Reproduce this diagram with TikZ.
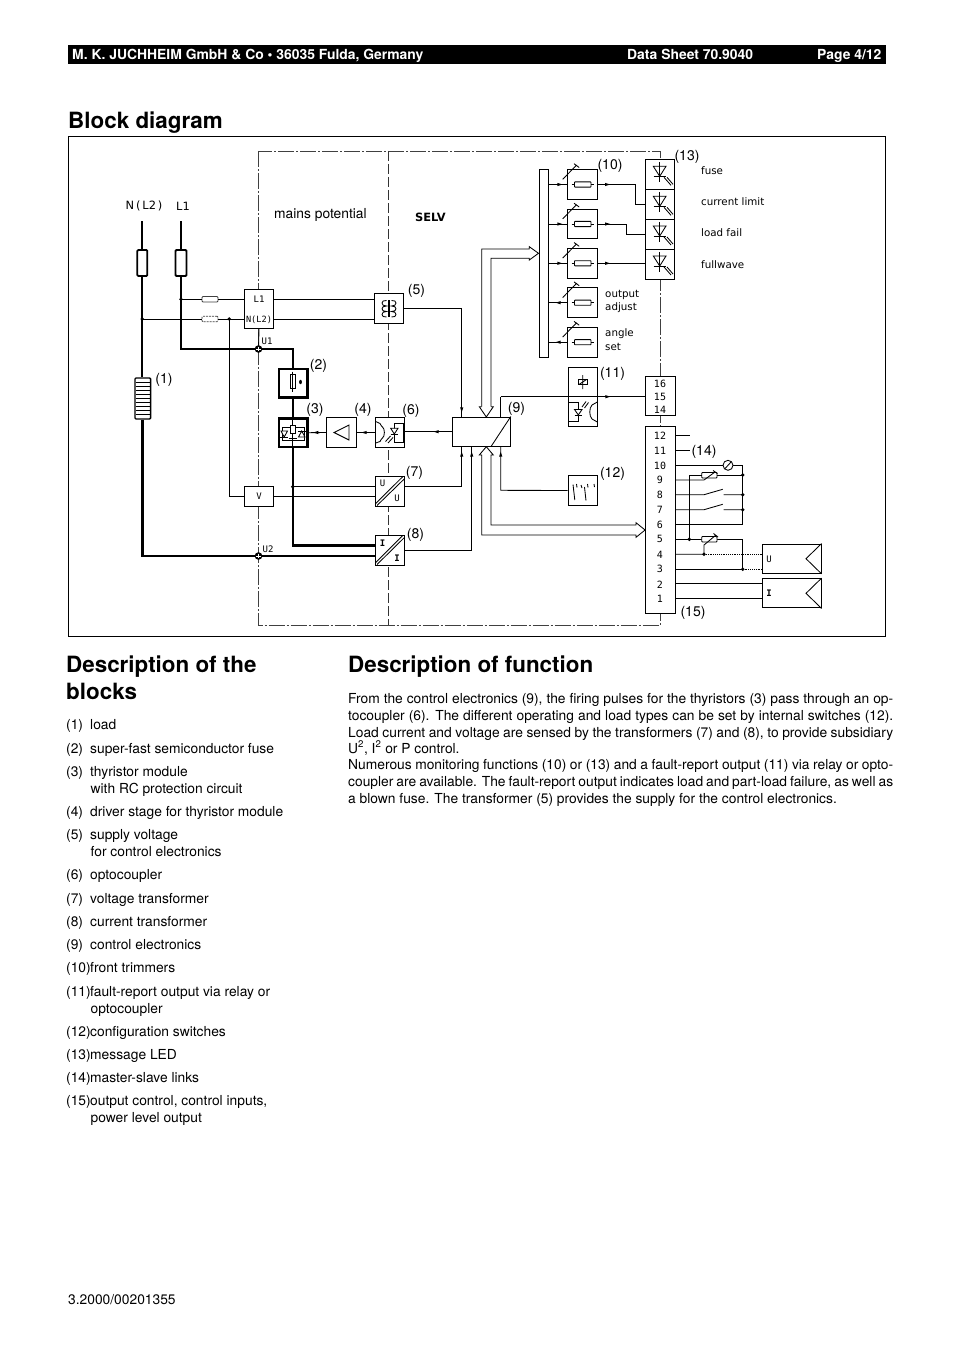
\documentclass[tikz,border=0pt]{standalone}
\usepackage{fontspec}
\setmainfont{TeX Gyre Heros}
\newfontfamily\monoisof{DejaVu Sans Mono}
\newfontfamily\isof{DejaVu Sans}
\newcommand\fs[1]{\fontsize{#1}{#1}\selectfont}
\tikzset{
  boxn/.style={draw,fill=white,inner sep=0pt,line width=1pt,minimum width=29.4pt,minimum height=29.6pt},
  thk/.style={line width=2.4pt,line join=miter},
  med/.style={line width=1.8pt},
  thn/.style={line width=.85pt},
  dashfr/.style={line width=.6pt,black!75,dash pattern=on 16pt off 2pt on 2pt off 2pt},
  dashmid/.style={line width=.7pt,black!80,dash pattern=on 10pt off 3pt},
  lab/.style={inner sep=0pt,yshift=-1.5pt,font=\fs{14}},
  iso/.style={inner sep=0pt,font=\monoisof\fs{9}},
  word/.style={inner sep=0pt,anchor=west,font=\isof\fs{10.3}},
  isob/.style={inner sep=0pt,font=\monoisof\bfseries\fs{9}},
  term/.style={inner sep=0pt,font=\monoisof\fs{10}},
  txt/.style={inner sep=0pt,anchor=base west,font=\fs{13.8}},
  head/.style={inner sep=0pt,anchor=base west,text=white,font=\bfseries\fs{13.9}},
  ttl/.style={inner sep=0pt,anchor=base west,font=\bfseries\fs{22.4}},
}
\newcommand\mk[3]{\fill[shift={(#1,#2)},rotate=#3] (-2.6,-1.6)--(2.4,0)--(-2.6,1.6)--cycle;}
\newcommand\dotj[2]{\fill (#1,#2) circle (1.9pt);}
\newcommand\jn[2]{\fill (#1,#2) circle (3.8pt);\draw[white,line width=.35pt] (#1-2.4,#2)--(#1+2.4,#2) (#1,#2-2.4)--(#1,#2+2.4);}
\newcommand\trm[2]{%
  \node[boxn] (#1) at (582.5,#2) {};
  \draw[thn,fill=white,rounded corners=.6pt] (574.5,#2-2.6) rectangle (591,#2+2.6);
  \draw[thn] (571.5,#2)--(574.5,#2) (591,#2)--(594,#2);
  \draw[thn] (562.7,#2-5.2)--(576.7,#2-19.5) (574,#2-20.8)--(579.2,#2-17);
  \draw[thn] (bar.east |- #1.west)--(#1.west);
}
\newcommand\led[2]{%
  \node[boxn,minimum height=30pt] (#1) at (659.8,#2+15) {};
  \draw[thn] (653.3,#2+7)--(666,#2+7)--(659.7,#2+17)--cycle;
  \draw[line width=1pt] (659.7,#2+3)--(659.7,#2+23) (653.5,#2+17)--(666,#2+17);
  \draw[thn] (664,#2+18)--(671,#2+26) (667,#2+18)--(673,#2+25);
}
\newcommand\li[5]{%
  \node[txt] (n#1) at (66,#2) {#3};
  \node[txt] (t#1) at (#4,#2) {#5};
}
\newcommand\jl[3]{\node[txt] (#1) at (348,#2) {\hbox to 545pt{#3}};}
\newcommand\coil[2]{% x, bulge direction
  \draw[thn] (#1,300.5) .. controls (#1+#2,299.5) and (#1+#2,306.5) .. (#1,306)
     .. controls (#1+#2,305.5) and (#1+#2,312) .. (#1,311.5)
     .. controls (#1+#2,311) and (#1+#2,318) .. (#1,317);
}
\begin{document}
\begin{tikzpicture}[x=1pt,y=-1pt]
\useasboundingbox (0,0) rectangle (954,1351);
\fill[white] (0,0) rectangle (954,1351);
% header
\fill[black] (68,45) rectangle (886,64);
\node[head] (h1) at (72,59.7) {M. K. JUCHHEIM GmbH \& Co • 36035 Fulda, Germany};
\node[head] (h2) at (627,59.7) {Data Sheet 70.9040};
\node[head] (h3) at (817,59.7) {Page 4/12};
\node[ttl] (tbd) at (68,129) {Block diagram};
\draw[line width=.8pt] (68,136.5) rectangle (885.5,636);
% potential frame
\draw[dashfr] (258.5,151) rectangle (660,625);
\draw[dashmid] (388.7,151)--(388.7,625);
% mains
\node[inner sep=0pt,font=\isof\fs{11.4}] (lN) at (144,206) {N\,(\,L2\,)};
\node[inner sep=0pt,font=\isof\fs{11.4}] (lL) at (183,206) {L1};
\coordinate (aN) at (142.3,221);
\coordinate (aL) at (181,221);
\node[draw,fill=white,med,rounded corners=1pt,minimum width=10pt,minimum height=26pt,inner sep=0pt] (fN) at (142.3,263) {};
\node[draw,fill=white,med,rounded corners=1pt,minimum width=11pt,minimum height=26pt,inner sep=0pt] (fL) at (181,263) {};
% load
\node[draw,fill=white,line width=1.3pt,rounded corners=1pt,minimum width=15.6pt,minimum height=41pt,inner sep=0pt] (load) at (142.8,398.5) {};
\foreach \yy in {382,386,390,394,398,402,406,410,414}{\draw[line width=1pt] (135.5,\yy)--(150,\yy);}
% boxes left
\node[boxn,minimum height=39.4pt] (LN) at (259,309) {};
\node[iso] (LNa) at (259,299.5) {L1};
\node[iso,font=\monoisof\fs{8.6}] (LNb) at (259,319.5) {N(L2)};
\node[boxn,minimum height=20.3pt] (Vb) at (259,496.8) {};
\node[iso] (Vt) at (259,496.5) {V};
\node[boxn,line width=2.4pt,minimum width=28.6pt,minimum height=28.6pt] (b2) at (293,383.2) {};
\node[boxn,line width=2.4pt,minimum width=28.6pt,minimum height=28.6pt] (b3) at (293,432.7) {};
\node[boxn] (b4) at (341.5,432.5) {};
\node[boxn] (b5) at (389.2,308.5) {};
\node[boxn] (b6) at (390.2,432.3) {};
\node[boxn] (b7) at (390.2,491.7) {};
\node[boxn] (b8) at (390.2,550.5) {};
\node[boxn,minimum width=58pt] (b9) at (481.3,431.8) {};
\coordinate (U1) at (258.5,349);
\coordinate (U2) at (258.5,556);
\coordinate (j1) at (181,299.3);
\coordinate (j2) at (142.3,319);
\coordinate (j3) at (229.3,319);
\coordinate (j4) at (292.7,486.7);
% thin wiring
\node[draw=black!75,fill=white,thn,rounded corners=1pt,minimum width=16pt,minimum height=5.5pt,inner sep=0pt] (sf1) at (210,299.3) {};
\node[draw=black!75,fill=white,thn,dash pattern=on 2pt off 1pt,rounded corners=1pt,minimum width=16pt,minimum height=5.5pt,inner sep=0pt] (sf2) at (210,319) {};
\draw[thn] (j1)--(sf1) (sf1)--(LN.west |- j1);
\draw[thn] (j2)--(sf2) (sf2)--(LN.west |- j2);
\draw[thn] (LN.east |- j1)--(b5.west |- j1);
\draw[thn] (LN.east |- j2)--(b5.west |- j2);
\draw[thn] (j3)--(j3 |- Vb.west)--(Vb.west);
\draw[thn] (Vb.east)--(b7.west |- Vb.east);
\draw[thn] (j4)--(b7.west |- j4);
\draw[thn] (b3.east)--(b4.west);
\draw[thn] (b4.east |- b3.east)--(b6.west |- b3.east);
\mk{315.7}{432.5}{180}\mk{364}{432.5}{180}
\draw[thn] (LN.south)--(U1);
% heavy wiring
\draw[med] (aN)--(fN.north) (fN.south)--(load.north -| fN.south);
\draw[med] (aL)--(fL.north);
\draw[thk] (fL.south)--(j1)--(j1 |- U1)--(b2.north |- U1)--(b2.north);
\draw[thk] (b2.south)--(b3.north);
\draw[thk] (b3.south)--(b3.south |- 0,545.3)--(b8.west |- 0,545.3);
\draw[thk] (load.south -| fN.south)--(fN.south |- U2)--(b8.west |- U2);
\jn{258.5}{349}\jn{258.5}{556}
\dotj{181}{299.3}\dotj{142.3}{319}\dotj{229.3}{319}\dotj{292.7}{486.7}
\node[iso] (lU1) at (267,341) {U1};
\node[iso] (lU2) at (268,549.5) {U2};
% contents of (2)
\draw[thn,fill=white] (290.3,374) rectangle (295.5,388);
\draw[thn] (292.9,371.5)--(292.9,391.5);
\fill (300.5,382) ellipse (1.4pt and 2.2pt);
% contents of (3)
\draw[thn] (282,427)--(282,440.5)--(304,440.5)--(304,427)--(282,427)
  (292.7,420)--(292.7,446);
\draw[thn,fill=white] (290.2,425) rectangle (295.2,433);
\draw[line width=1pt] (288.5,438)--(297,438) (288.5,440.8)--(297,440.8);
\draw[thn,fill=white] (281,431)--(287.5,431)--(284.2,437)--cycle;
\draw[thn,fill=white] (298.5,437)--(305,437)--(301.7,431)--cycle;
\draw[thn] (279.5,437)--(288,437) (298,431)--(306,431);
% contents of (4)
\draw[line width=.9pt] (349,425)--(334,432.5)--(349,440)--cycle;
% transformer (5)
\coil{386.5}{-6}\coil{391.5}{6}
\draw[thn] (388.3,300)--(388.3,317) (389.9,300)--(389.9,317);
% contents of (6)
\draw[thn] (375.7,421.5)--(380,423.5) .. controls (381.5,425) and (381,426.5) .. (382.5,427) .. controls (385,428.5) and (385,436.5) .. (382.5,438) .. controls (381,438.5) and (381.5,440) .. (380,441.5)--(375.7,443);
\draw[thn] (394.3,423)--(403.8,423)--(403.8,442)--(394.3,442)--(394.3,423);
\draw[thn,fill=white] (390.7,428.3)--(398,428.3)--(394.3,434)--cycle;
\draw[thn] (390.7,434)--(398,434);
\draw[thn] (390.5,436)--(385.5,441.5) (393,437.5)--(388,443);
% (7) (8)
\draw[thn] (404.7,478.5)--(377,505.5) (402.5,476.9)--(375.7,503.5);
\draw[thn] (404.7,537.2)--(377,564.5) (402.5,535.7)--(375.7,562.5);
\node[iso] (u7a) at (382.5,483.5) {U};
\node[iso] (u7b) at (397,498.5) {U};
\node[isob] (i8a) at (382.5,543) {I};
\node[isob] (i8b) at (397,558) {I};
% (9)
\draw[thn] (b9.north east)--(491,446.6);
\coordinate (w5) at (461.7,308.3);
\coordinate (w8) at (471.7,550.3);
\coordinate (w12) at (500.7,490.3);
\coordinate (w11) at (500.7,396.7);
\draw[thn] (b5.east |- w5)--(w5)--(w5 |- b9.north);
\mk{461.7}{410}{-90}
\draw[thn] (b7.east |- 0,486)--(461.7,486)--(461.7,446.7);
\mk{461.7}{454}{90}
\draw[thn] (b8.east |- w8)--(w8)--(w8 |- b9.south);
\mk{471.7}{454}{90}
\draw[thn] (b6.east |- b9.west)--(b9.west);
\mk{436}{431.7}{180}
\draw[thn] (500.7,417)--(w11);
% bar and trimmers
\node[boxn,minimum width=9.7pt,minimum height=187.3pt] (bar) at (543.85,263.65) {};
\trm{tA}{184.5}\trm{tB}{224}\trm{tC}{263.3}\trm{tD}{302.7}\trm{tE}{342.2}
\mk{560}{184.5}{0}\mk{560}{224}{0}\mk{560}{263.3}{0}\mk{558}{302.7}{180}\mk{558}{342.2}{180}
% hollow arrow up to bar
\draw[thn,line join=miter] (481.7,406.7)--(481.7,249)--(529.3,249)--(529.3,246.7)--(bar.west |- 0,253.3)--(529.3,260)--(529.3,258.3)--(491,258.3)--(491,406.7);
\draw[thn] (481.7,406.7)--(479.3,406.7)--(486.3,417)--(493.3,406.7)--(491,406.7);
% hollow arrow to (15)
\node[boxn,minimum height=187pt] (tc) at (660.3,519.8) {};
\node[boxn,minimum height=39.3pt] (td) at (660.3,396.3) {};
\draw[thn,line join=miter] (486.3,446.7)--(479.3,455)--(481.7,455)--(481.7,535)--(636,535)--(636,537.3)--(tc.west |- 0,530)--(636,522.7)--(636,525)--(491,525)--(491,455)--(493.3,455)--cycle;
% LED column
\led{L1}{159.3}\led{L2}{189.3}\led{L3}{219}\led{L4}{249}
\draw[thn] (tA.east)--(635.7,184.5)--(635.7,204.3)--(L2.west |- 0,204.3);
\draw[thn] (tB.east)--(626,224)--(626,234)--(L3.west |- 0,234);
\draw[thn] (tC.east)--(L4.west |- tC.east);
\mk{607.7}{184.5}{0}\mk{607.7}{224}{0}\mk{607.7}{263.3}{0}
% (11)
\node[boxn,minimum height=59.7pt] (b11) at (582.8,396.85) {};
\draw[thn] (b11.west)--(b11.east);
\draw[thn,fill=white] (578,379.5) rectangle (587.5,384.5);
\draw[thn] (582.7,375)--(582.7,389) (579,384.5)--(586.5,379.5);
\draw[thn] (568.3,402)--(578.3,402)--(578.3,421.8)--(568.3,421.8);
\draw[thn,fill=white] (574.5,409.5)--(582,409.5)--(578.3,415)--cycle;
\draw[thn] (574.5,415)--(582,415);
\draw[thn] (582,407)--(586,401.5) (584.5,408)--(588.5,402.5);
\draw[thn] (597.3,402)--(592,405) .. controls (589,408) and (589,416) .. (592,419)--(597.3,422);
\draw[thn] (w11)--(td.west |- w11);
\mk{608}{396.7}{0}
% (12)
\node[boxn] (b12) at (582.8,490.5) {};
\draw[thn] (b12.west)--(w12)--(w12 |- b9.south);
\mk{500.7}{454}{90}
\draw[thn] (573,484.5)--(574.8,500) (576.5,484)--(577,487.5) (584.5,487)--(586,500.5) (587.5,484)--(588,487.5) (594,484)--(594.5,487) (581,485)--(582,488);
% terminal numbers
\node[term] (t16) at (660,383.4) {16};
\node[term] (t15) at (660,396.7) {15};
\node[term] (t14) at (660,410) {14};
\node[term] (k12) at (660,436) {12};
\node[term] (k11) at (660,451) {11};
\node[term] (k10) at (660,465.5) {10};
\node[term] (k9) at (660,480) {9};
\node[term] (k8) at (660,495) {8};
\node[term] (k7) at (660,510) {7};
\node[term] (k6) at (660,525) {6};
\node[term] (k5) at (660,539.3) {5};
\node[term] (k4) at (660,554.5) {4};
\node[term] (k3) at (660,569) {3};
\node[term] (k2) at (660,584.5) {2};
\node[term] (k1) at (660,599) {1};
% right-hand wiring
\coordinate (r12) at (690,435.7);
\coordinate (r11) at (690,450.5);
\node[draw,circle,thn,minimum size=10pt,inner sep=0pt] (meter) at (728,465.3) {};
\draw[thn] (724.8,468.8)--(731.2,461.8);
\draw[thn] (tc.east |- r12)--(r12);
\draw[thn] (tc.east |- r11)--(r11);
\coordinate (rv) at (742.7,465.3);
\draw[thn] (tc.east |- meter.west)--(meter.west);
\draw[thn] (meter.east)--(rv)--(742.7,524.3)--(tc.east |- 0,524.3);
\draw[thn,fill=white,rounded corners=.8pt] (701.7,472.5) rectangle (717,478);
\draw[thn] (689.3,539.3)--(689.3,475)--(701.7,475) (717,475)--(742.7,475);
\draw[thn] (tc.east |- 0,480)--(704,480)--(715,472) (713,470.5)--(717.5,473.5);
\draw[thn] (tc.east |- 0,494.7)--(704,494.7)--(722.7,489.3) (723.5,494.7)--(742.7,494.7);
\draw[thn] (tc.east |- 0,509.7)--(704,509.7)--(722.7,504.3) (723.5,509.7)--(742.7,509.7);
\draw[thn] (tc.east |- 0,539.3)--(701.7,539.3) (717,539.3)--(742.7,539.3)--(742.7,569.3);
\draw[thn,fill=white,rounded corners=.8pt] (701.7,536.5) rectangle (717,542);
\draw[thn] (tc.east |- 0,554.3)--(704,554.3)--(704,545)--(716,535) (713.5,533.5)--(718,537);
\node[boxn,minimum width=58.7pt,minimum height=29.3pt] (bU) at (791.7,558.7) {};
\node[boxn,minimum width=58.7pt,minimum height=29.3pt] (bI) at (791.7,593.3) {};
\draw[thn] (bU.north east)--(806,558.7)--(bU.south east);
\draw[thn] (bI.north east)--(806,593.3)--(bI.south east);
\node[iso] (tU) at (769,559) {U};
\node[isob] (tI) at (769,593.5) {I};
\draw[thn] (tc.east |- 0,569.3)--(742.7,569.3);
\draw[thn,densely dotted] (704,554.3)--(bU.west |- 0,554.3);
\draw[thn,densely dotted] (742.7,569.3)--(bU.west |- 0,569.3);
\draw[thn] (tc.east |- 0,583.7)--(bI.west |- 0,583.7);
\draw[thn] (tc.east |- 0,598.7)--(bI.west |- 0,598.7);
\dotj{689.3}{539.3}\dotj{742.7}{475}\dotj{742.7}{494.7}\dotj{742.7}{509.7}\dotj{742.7}{569.3}\dotj{704}{554.3}
% text in diagram
\node[lab,anchor=west,font=\fs{13.8}] (mp) at (274,213.5) {mains potential};
\node[inner sep=0pt,anchor=west,font=\isof\bfseries\fs{11.4}] (selv) at (415,217) {SELV};
\node[word] (o1) at (701,171) {fuse};
\node[word] (o2) at (701,202) {current limit};
\node[word] (o3) at (701,233) {load fail};
\node[word] (o4) at (701,264.5) {fullwave};
\node[word] (o5) at (605,294.5) {output};
\node[word] (o6) at (605,307.5) {adjust};
\node[word] (o7) at (605,334) {angle};
\node[word] (o8) at (605,347) {set};
\node[lab] (c1) at (164,378) {(1)};
\node[lab] (c2) at (318.5,364) {(2)};
\node[lab] (c3) at (315,408) {(3)};
\node[lab] (c4) at (363,408) {(4)};
\node[lab] (c6) at (411,409) {(6)};
\node[lab] (c5) at (416.5,289) {(5)};
\node[lab] (c7) at (414.5,471) {(7)};
\node[lab] (c8) at (415.5,533) {(8)};
\node[lab] (c9) at (516.5,407) {(9)};
\node[lab] (c10) at (610,164) {(10)};
\node[lab] (c11) at (612.5,372) {(11)};
\node[lab] (c12) at (612.5,472) {(12)};
\node[lab] (c13) at (687,155) {(13)};
\node[lab] (c14) at (704,450) {(14)};
\node[lab] (c15) at (693,611) {(15)};
% description of the blocks
\node[ttl] (tdb1) at (66,672) {Description of the};
\node[ttl] (tdb2) at (66,699) {blocks};
\node[ttl] (tdf) at (348,672) {Description of function};
\li{1}{729}{(1)}{90}{load}
\li{2}{753}{(2)}{90}{super-fast semiconductor fuse}
\li{3}{776}{(3)}{90}{thyristor module}
\node[txt] (t3b) at (90.5,793) {with RC protection circuit};
\li{4}{816}{(4)}{90}{driver stage for thyristor module}
\li{5}{839}{(5)}{90}{supply voltage}
\node[txt] (t5b) at (90.5,856) {for control electronics};
\li{6}{879}{(6)}{90}{optocoupler}
\li{7}{903}{(7)}{90}{voltage transformer}
\li{8}{926}{(8)}{90}{current transformer}
\li{9}{949}{(9)}{90}{control electronics}
\li{10}{972}{(10)}{90}{front trimmers}
\li{11}{996}{(11)}{90}{fault-report output via relay or}
\node[txt] (t11b) at (90.5,1013) {optocoupler};
\li{12}{1036}{(12)}{90}{configuration switches}
\li{13}{1059}{(13)}{90}{message LED}
\li{14}{1082}{(14)}{90}{master-slave links}
\li{15}{1105}{(15)}{90}{output control, control inputs,}
\node[txt] (t15b) at (90.5,1122) {power level output};
% function text
\jl{p1}{703}{From the control electronics (9), the firing pulses for the thyristors (3) pass through an op-}
\jl{p2}{720}{tocoupler (6). The different operating and load types can be set by internal switches (12).}
\jl{p3}{737}{Load current and voltage are sensed by the transformers (7) and (8), to provide subsidiary}
\node[txt] (p4) at (348,753) {U\textsuperscript{2}, I\textsuperscript{2} or P control.};
\jl{p5}{769}{Numerous monitoring functions (10) or (13) and a fault-report output (11) via relay or opto-}
\jl{p6}{786}{coupler are available. The fault-report output indicates load and part-load failure, as well as}
\node[txt] (p7) at (348,803) {a blown fuse. The transformer (5) provides the supply for the control electronics.};
\node[txt] (foot) at (68,1304) {3.2000/00201355};
\end{tikzpicture}
\end{document}
